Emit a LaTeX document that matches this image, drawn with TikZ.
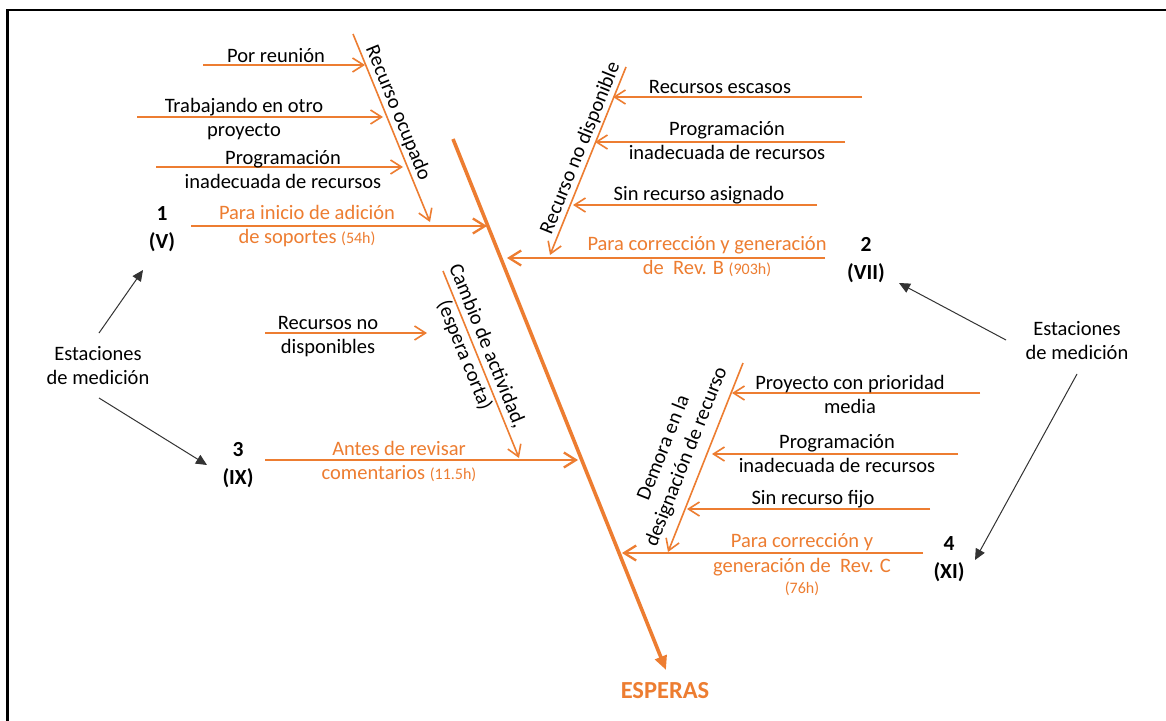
\documentclass[tikz,border=0pt]{standalone}
\usepackage{fontspec}
\setmainfont{Carlito}
\usetikzlibrary{arrows.meta}
\definecolor{orng}{HTML}{ED7D31}
\newcommand\hrsz[1]{{\fontsize{16}{19}\selectfont #1}}
\begin{document}
\begin{tikzpicture}[x=1pt,y=-1pt,
  lbl/.style={font=\fontsize{20.5}{24.5}\selectfont, align=center, inner sep=0pt},
  olbl/.style={lbl, text=orng},
  num/.style={font=\fontsize{21.5}{28.5}\selectfont\bfseries, align=center, inner sep=0pt},
  sub/.style={draw=orng, line width=1.6pt, -{Straight Barb[length=11pt,width=14pt]}},
  mainbr/.style={draw=orng, line width=2.3pt, -{Straight Barb[length=12pt,width=15pt]}},
  bone/.style={draw=orng, line width=1.6pt, -{Straight Barb[length=11pt,width=14pt]}},
  spine/.style={draw=orng, line width=3.6pt, -{Triangle[length=14pt,width=12pt]}},
  ptr/.style={draw=black!80, line width=1pt, -{Triangle[length=11pt,width=10pt]}},
]
\useasboundingbox (0,0) rectangle (1166,720);
\fill[white] (0,0) rectangle (1166,720);
\draw[line width=2.7pt] (7.3,722) -- (7.3,10) -- (1168,10);

% spine
\coordinate (s1) at (453,139);
\coordinate (s2) at (666,670);
\draw[spine] (s1) -- (s2);
\node[font=\fontsize{24.5}{28}\selectfont\bfseries, text=orng, anchor=base, inner sep=0pt] (esp) at (665,698) {ESPERAS};

% ---- bone A : Recurso ocupado
\coordinate (a1) at (353,34);
\coordinate (a2) at (430,222);
\draw[bone] (a1) -- (a2) node[lbl, pos=0.444, sloped, above=2pt] (tA) {Recurso ocupado};
\coordinate (a1s) at (203,65);  \coordinate (a1e) at (365,65);
\coordinate (a2s) at (137,117); \coordinate (a2e) at (383,117);
\coordinate (a3s) at (156,167); \coordinate (a3e) at (403,167);
\draw[sub] (a1s) -- (a1e);
\draw[sub] (a2s) -- (a2e);
\draw[sub] (a3s) -- (a3e);
\node[lbl, anchor=base] (ta1) at (276,62) {Por reunión};
\node[lbl, anchor=base] (ta2) at (244,136.5) {Trabajando en otro\\proyecto};
\node[lbl, anchor=base] (ta3) at (283,188.5) {Programación\\inadecuada de recursos};
\coordinate (m1s) at (191,226); \coordinate (m1e) at (487,226);
\draw[mainbr] (m1s) -- (m1e);
\node[olbl, anchor=base] (tm1) at (307,243.5) {Para inicio de adición\\de soportes \hrsz{(54h)}};
\node[num, anchor=base] (n1) at (162,248.5) {1\\(V)};

% ---- bone B : Recurso no disponible
\coordinate (b1) at (626,67);
\coordinate (b2) at (550,255);
\draw[bone] (b1) -- (b2) node[lbl, pos=0.455, sloped, above=2pt] (tB) {Recurso no disponible};
\coordinate (b1s) at (862,97);  \coordinate (b1e) at (613,97);
\coordinate (b2s) at (845,142); \coordinate (b2e) at (595,142);
\coordinate (b3s) at (817,205); \coordinate (b3e) at (573,205);
\draw[sub] (b1s) -- (b1e);
\draw[sub] (b2s) -- (b2e);
\draw[sub] (b3s) -- (b3e);
\node[lbl, anchor=base] (tb1) at (720,93) {Recursos escasos};
\node[lbl, anchor=base] (tb2) at (727,159.5) {Programación\\inadecuada de recursos};
\node[lbl, anchor=base] (tb3) at (699,200) {Sin recurso asignado};
\coordinate (m2s) at (825,258); \coordinate (m2e) at (507,258);
\draw[mainbr] (m2s) -- (m2e);
\node[olbl, anchor=base] (tm2) at (707,274.5) {Para corrección y generación\\de~ Rev. B \hrsz{(903h)}};
\node[num, anchor=base] (n2) at (866,279.5) {2\\(VII)};

% ---- bone C : Cambio de actividad
\coordinate (c1) at (443,271);
\coordinate (c2) at (519,458);
\draw[bone] (c1) -- (c2) node[lbl, pos=0.427, sloped] (tC) {Cambio de actividad,\\(espera corta)};
\coordinate (c1s) at (265,333); \coordinate (c1e) at (427,333);
\draw[sub] (c1s) -- (c1e);
\node[lbl, anchor=base] (tc1) at (328,353.5) {Recursos no\\disponibles};
\coordinate (m3s) at (265,460); \coordinate (m3e) at (578,460);
\draw[mainbr] (m3s) -- (m3e);
\node[olbl, anchor=base] (tm3) at (399,479.5) {Antes de revisar\\comentarios \hrsz{(11.5h)}};
\node[num, anchor=base] (n3) at (238,484.5) {3\\(IX)};

% ---- bone D : Demora en la designación de recurso
\coordinate (d1) at (743,363);
\coordinate (d2) at (668,552);
\draw[bone] (d1) -- (d2) node[lbl, pos=0.531, sloped, above=8pt] (tD) {Demora en la\\designación de recurso};
\coordinate (d1s) at (980,393); \coordinate (d1e) at (732,393);
\coordinate (d2s) at (958,454); \coordinate (d2e) at (712,454);
\coordinate (d3s) at (930,509); \coordinate (d3e) at (687,509);
\draw[sub] (d1s) -- (d1e);
\draw[sub] (d2s) -- (d2e);
\draw[sub] (d3s) -- (d3e);
\node[lbl, anchor=base] (td1) at (850,413.5) {Proyecto con prioridad\\media};
\node[lbl, anchor=base] (td2) at (837,472.5) {Programación\\inadecuada de recursos};
\node[lbl, anchor=base] (td3) at (813,504) {Sin recurso fijo};
\coordinate (m4s) at (923,553); \coordinate (m4e) at (622,553);
\draw[mainbr] (m4s) -- (m4e);
\node[olbl, anchor=base] (tm4) at (802,593) {Para corrección y\\generación de~ Rev. C\\[-3.5pt]\hrsz{(76h)}};
\node[num, anchor=base] (n4) at (949,578.5) {4\\(XI)};

% ---- measurement stations
\node[lbl, anchor=base] (estL) at (98,384.5) {Estaciones\\de medición};
\node[lbl, anchor=base] (estR) at (1077,359.5) {Estaciones\\de medición};
\coordinate (pL1) at (99,333);  \coordinate (qL1) at (143,270);
\coordinate (pL2) at (99,398);  \coordinate (qL2) at (207,465);
\coordinate (pR1) at (1006,340); \coordinate (qR1) at (899,283);
\coordinate (pR2) at (1077,374); \coordinate (qR2) at (975,560);
\draw[ptr] (pL1) -- (qL1);
\draw[ptr] (pL2) -- (qL2);
\draw[ptr] (pR1) -- (qR1);
\draw[ptr] (pR2) -- (qR2);
\end{tikzpicture}
\end{document}
